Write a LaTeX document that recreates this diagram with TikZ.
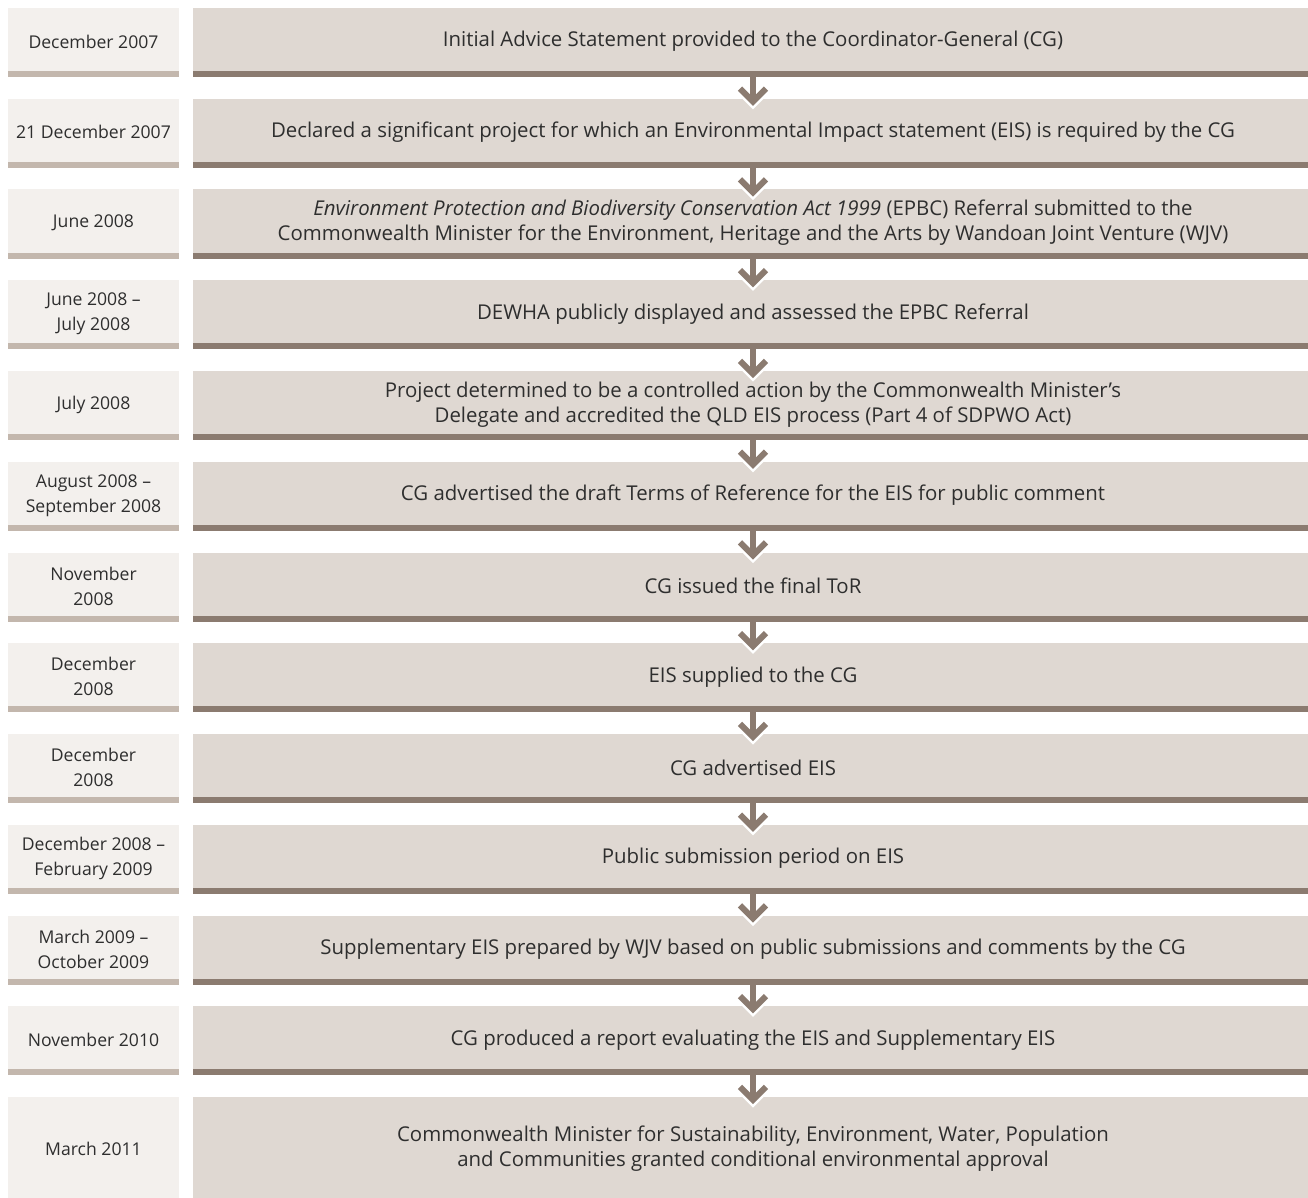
\documentclass[tikz,border=0pt]{standalone}
\usepackage{fontspec}
\setmainfont{Open Sans}
\definecolor{datefill}{HTML}{F3F0ED}
\definecolor{datebar}{HTML}{C3B7AD}
\definecolor{stepfill}{HTML}{DFD8D2}
\definecolor{stepbar}{HTML}{8B7B70}
\definecolor{txt}{HTML}{2E2E2E}
\tikzset{
  datebox/.style={fill=datefill, minimum width=171pt, minimum height=67pt, inner sep=0pt,
     align=center, text=txt, font=\fontsize{17.6}{25}\selectfont},
  stepbox/.style={fill=stepfill, minimum width=1120pt, minimum height=67pt, inner sep=0pt,
     align=center, text=txt, font=\fontsize{20.4}{25}\selectfont},
  shaft/.style={draw=stepbar, line width=6pt},
  chevout/.style={draw=white, line width=11pt, miter limit=10},
  chevin/.style={draw=stepbar, line width=6pt, miter limit=10},
}
\begin{document}
\begin{tikzpicture}[x=1pt,y=-1pt]
\useasboundingbox (0,0) rectangle (1308,1198);
% rows: top = 8 + 90.75*(i-1); node centre = top + 33.5
\node[datebox] (d1) at (93.5,41.5) {December 2007};
\node[stepbox] (s1) at (753,41.5) {Initial Advice Statement provided to the Coordinator-General (CG)};
\node[datebox] (d2) at (93.5,132.25) {21 December 2007};
\node[stepbox] (s2) at (753,132.25) {Declared a significant project for which an Environmental Impact statement (EIS) is required by the CG};
\node[datebox] (d3) at (93.5,223) {June 2008};
\node[stepbox] (s3) at (753,223) {\textit{Environment Protection and Biodiversity Conservation Act 1999} (EPBC) Referral submitted to the\\Commonwealth Minister for the Environment, Heritage and the Arts by Wandoan Joint Venture (WJV)};
\node[datebox] (d4) at (93.5,313.75) {June 2008 –\\July 2008};
\node[stepbox] (s4) at (753,313.75) {DEWHA publicly displayed and assessed the EPBC Referral};
\node[datebox] (d5) at (93.5,404.5) {July 2008};
\node[stepbox] (s5) at (753,404.5) {Project determined to be a controlled action by the Commonwealth Minister’s\\Delegate and accredited the QLD EIS process (Part 4 of SDPWO Act)};
\node[datebox] (d6) at (93.5,495.25) {August 2008 –\\September 2008};
\node[stepbox] (s6) at (753,495.25) {CG advertised the draft Terms of Reference for the EIS for public comment};
\node[datebox] (d7) at (93.5,586) {November\\2008};
\node[stepbox] (s7) at (753,586) {CG issued the final ToR};
\node[datebox] (d8) at (93.5,676.75) {December\\2008};
\node[stepbox] (s8) at (753,676.75) {EIS supplied to the CG};
\node[datebox] (d9) at (93.5,767.5) {December\\2008};
\node[stepbox] (s9) at (753,767.5) {CG advertised EIS};
\node[datebox] (d10) at (93.5,858.25) {December 2008 –\\February 2009};
\node[stepbox] (s10) at (753,858.25) {Public submission period on EIS};
\node[datebox] (d11) at (93.5,949) {March 2009 –\\October 2009};
\node[stepbox] (s11) at (753,949) {Supplementary EIS prepared by WJV based on public submissions and comments by the CG};
\node[datebox] (d12) at (93.5,1039.75) {November 2010};
\node[stepbox] (s12) at (753,1039.75) {CG produced a report evaluating the EIS and Supplementary EIS};
\node[datebox, minimum height=103pt] (d13) at (93.5,1148.5) {March 2011};
\node[stepbox, minimum height=103pt] (s13) at (753,1148.5) {Commonwealth Minister for Sustainability, Environment, Water, Population\\and Communities granted conditional environmental approval};
% bars (overlap the lowest 4pt of each box, extend 2pt below it)
\foreach \i in {1,...,12}{
  \fill[datebar] ([yshift=4pt]d\i.south west) rectangle ++(171,6);
  \fill[stepbar] ([yshift=4pt]s\i.south west) rectangle ++(1120,6);
}
% arrows
\foreach \i [evaluate=\i as \j using int(\i+1)] in {1,...,12}{
  \draw[shaft] (s\i.south) -- ([yshift=-3pt]s\j.north);
  \draw[chevout] ([xshift=-13pt,yshift=10pt]s\j.north) -- ([yshift=-3pt]s\j.north) -- ([xshift=13pt,yshift=10pt]s\j.north);
  \draw[chevin] ([xshift=-13pt,yshift=10pt]s\j.north) -- ([yshift=-3pt]s\j.north) -- ([xshift=13pt,yshift=10pt]s\j.north);
  \draw[shaft] (s\i.south) -- ([yshift=-1pt]s\j.north);
}
\end{tikzpicture}
\end{document}
